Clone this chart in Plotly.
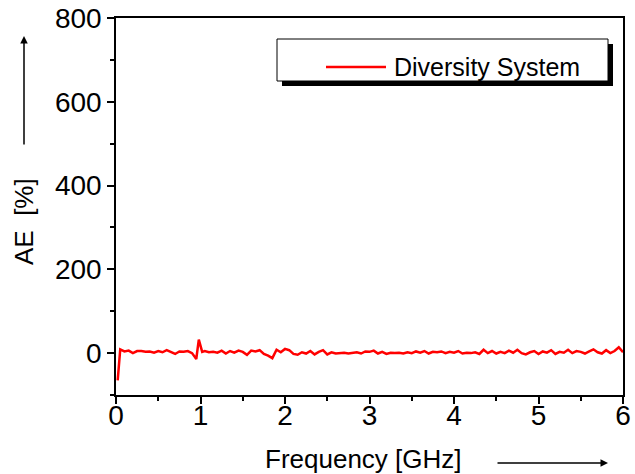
import plotly.graph_objects as go

freq = [0.02, 0.05, 0.10, 0.15, 0.20, 0.25, 0.30, 0.35, 0.40, 0.45, 0.50, 0.55, 0.60, 0.65,
        0.70, 0.75, 0.80, 0.85, 0.90, 0.95, 0.98, 1.02, 1.05, 1.10, 1.15, 1.20, 1.25, 1.30,
        1.35, 1.40, 1.45, 1.50, 1.55, 1.60, 1.65, 1.70, 1.75, 1.80, 1.85, 1.90, 1.95, 2.00,
        2.05, 2.10, 2.15, 2.20, 2.25, 2.30, 2.35, 2.40, 2.45, 2.50, 2.55, 2.60, 2.65, 2.70,
        2.75, 2.80, 2.85, 2.90, 2.95, 3.00, 3.05, 3.10, 3.15, 3.20, 3.25, 3.30, 3.35, 3.40,
        3.45, 3.50, 3.55, 3.60, 3.65, 3.70, 3.75, 3.80, 3.85, 3.90, 3.95, 4.00, 4.05, 4.10,
        4.15, 4.20, 4.25, 4.30, 4.35, 4.40, 4.45, 4.50, 4.55, 4.60, 4.65, 4.70, 4.75, 4.80,
        4.85, 4.90, 4.95, 5.00, 5.05, 5.10, 5.15, 5.20, 5.25, 5.30, 5.35, 5.40, 5.45, 5.50,
        5.55, 5.60, 5.65, 5.70, 5.75, 5.80, 5.85, 5.90, 5.95, 6.00]

ae = [-65, 9, 4, 6, 0, 5, 5, 3, 4, 1, 5, 2, 7, 3,
      -2, 4, 3, 5, 0, -14, 32, 3, 5, 2, 3, 1, 6, -1,
      5, 1, 6, 3, -4, 6, 4, 7, -2, -6, -12, 8, 2, 10,
      7, -2, -4, 2, -1, 5, -3, 3, 7, -3, 2, -1, 0, 1,
      -1, 0, 2, -1, 4, 3, 6, -1, 3, -2, 1, 0, 1, -1,
      2, 0, 4, 1, 5, -1, 3, 2, 4, 0, 3, 1, 5, -1,
      1, 0, 2, -2, 8, 0, 5, -1, 3, 0, 6, 1, 8, 0,
      -3, 2, 5, -2, 4, 1, 7, -2, 3, 1, 8, 0, 5, 3,
      -1, 4, 9, 2, -1, 7, 0, 5, 14, 2]

series_name = "Diversity System"
x_ticks = [0, 1, 2, 3, 4, 5, 6]
y_ticks = [0, 200, 400, 600, 800]

FONT = "Liberation Sans, Arial, sans-serif"

fig = go.Figure()
fig.add_trace(go.Scatter(x=freq, y=ae, mode="lines", name=series_name,
                         line=dict(color="#ff0000", width=2.5), showlegend=False))

axis_common = dict(showline=True, linecolor="black", linewidth=1.5, mirror=True,
                   showgrid=False, zeroline=False, ticks="outside", tickcolor="black",
                   tickwidth=1.5, ticklen=7, automargin=False,
                   tickfont=dict(family=FONT, size=28, color="black"))

fig.update_xaxes(range=[0, 6], tickvals=x_ticks, ticktext=[str(v) for v in x_ticks],
                 ticklabelstandoff=-12,
                 minor=dict(dtick=0.5, tick0=0, ticklen=4, tickwidth=1.5, tickcolor="black", ticks="outside"),
                 **axis_common)
fig.update_yaxes(range=[-100, 800], tickvals=y_ticks, ticktext=[str(v) for v in y_ticks],
                 minor=dict(dtick=100, tick0=0, ticklen=4, tickwidth=1.5, tickcolor="black", ticks="outside"),
                 **axis_common)

W, H = 635, 474
L, R, T, B = 116, 12, 18, 79
pw, ph = W - L - R, H - T - B

def px(xp):
    return (xp - L) / pw

def py(yp):
    return (H - B - yp) / ph

shapes = [
    # legend shadow
    dict(type="rect", xref="paper", yref="paper", x0=px(282), x1=px(613), y0=py(86), y1=py(44),
         fillcolor="black", line=dict(width=0)),
    # legend box
    dict(type="rect", xref="paper", yref="paper", x0=px(277), x1=px(608), y0=py(81), y1=py(39),
         fillcolor="white", line=dict(color="black", width=1)),
    # legend sample line
    dict(type="line", xref="paper", yref="paper", x0=px(326), x1=px(386), y0=py(67), y1=py(67),
         line=dict(color="#ff0000", width=2.5)),
]

annotations = [
    dict(text=series_name, xref="paper", yref="paper", x=px(392), y=py(67), xanchor="left",
         yanchor="middle", showarrow=False, font=dict(family=FONT, size=25, color="black")),
    dict(text="Frequency [GHz]", xref="paper", yref="paper", x=px(363), y=py(459),
         xanchor="center", yanchor="middle", showarrow=False,
         font=dict(family=FONT, size=26, color="black")),
    dict(text="AE  [%]", xref="paper", yref="paper", x=px(24), y=py(222), textangle=-90,
         xanchor="center", yanchor="middle", showarrow=False,
         font=dict(family=FONT, size=26, color="black")),
    # y arrow
    dict(text="", xref="paper", yref="paper", x=px(24), y=py(36), ax=0, ay=110,
         axref="pixel", ayref="pixel", showarrow=True, arrowhead=2, arrowsize=1,
         arrowwidth=1.5, arrowcolor="black"),
    # x arrow
    dict(text="", xref="paper", yref="paper", x=px(608), y=py(463), ax=-112, ay=0,
         axref="pixel", ayref="pixel", showarrow=True, arrowhead=2, arrowsize=1,
         arrowwidth=1.5, arrowcolor="black"),
]

fig.update_layout(width=W, height=H, margin=dict(l=L, r=R, t=T, b=B, pad=0, autoexpand=False),
                  plot_bgcolor="white", paper_bgcolor="white",
                  shapes=shapes, annotations=annotations,
                  font=dict(family=FONT, color="black"))

fig.write_html("out.html", config={"displayModeBar": False},
               post_script="document.body.style.margin='0';document.body.style.overflow='hidden';")
